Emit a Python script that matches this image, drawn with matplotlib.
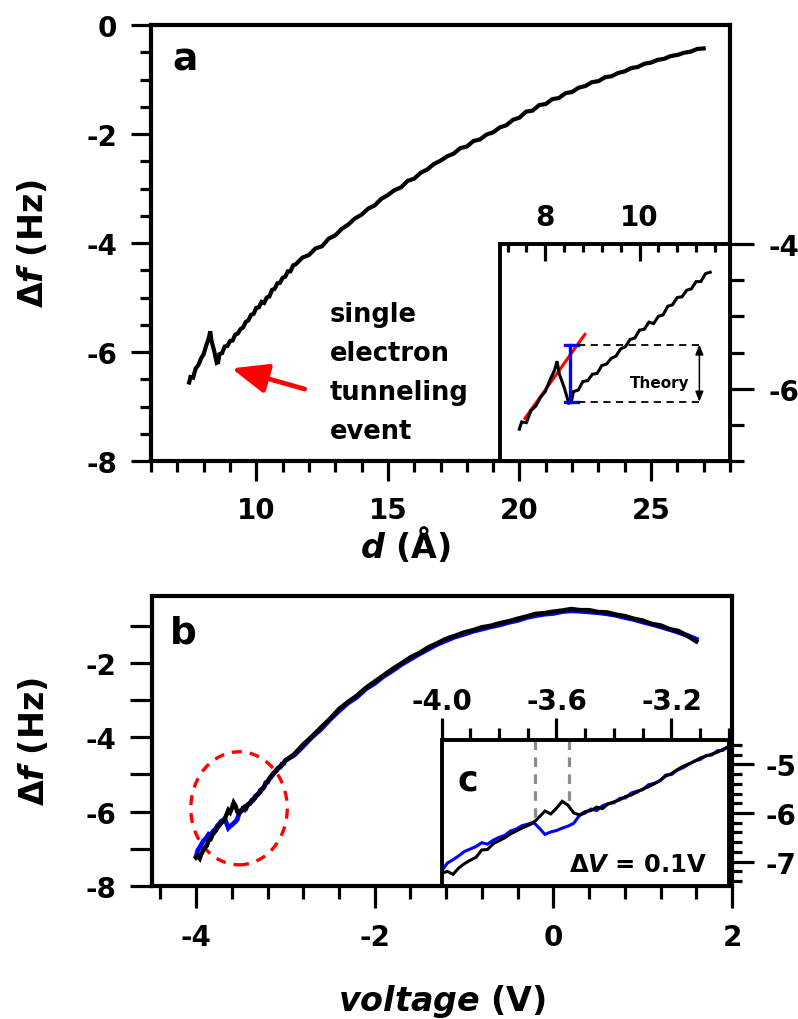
import matplotlib
matplotlib.use("Agg")
import matplotlib.pyplot as plt
from matplotlib.ticker import MultipleLocator, FuncFormatter, FormatStrFormatter
from matplotlib.patches import Ellipse

plt.rcParams.update({
    "font.family": "DejaVu Sans",
    "font.weight": "bold",
    "axes.labelweight": "bold",
    "axes.unicode_minus": False,
    "mathtext.fontset": "custom",
    "mathtext.rm": "DejaVu Sans",
    "mathtext.it": "DejaVu Sans:italic:bold",
    "mathtext.bf": "DejaVu Sans:bold",
})

# ---- panel a: frequency shift vs tip-sample distance ----
d_a = [7.45, 7.5, 7.6, 7.7, 7.8, 7.9, 8.0, 8.1, 8.2, 8.25, 8.3, 8.4, 8.5, 8.55,
       8.6, 8.7, 8.8, 8.9, 9.0, 9.1, 9.2, 9.3, 9.4, 9.5, 9.6, 9.7, 9.8, 9.9,
       10.0, 10.1, 10.2, 10.3, 10.4, 10.5, 10.6, 10.7, 10.8, 10.9, 11.0, 11.1,
       11.2, 11.3, 11.4, 11.5, 11.75, 12.0, 12.25, 12.5, 12.75, 13.0, 13.25,
       13.5, 13.75, 14.0, 14.25, 14.5, 14.75, 15.0, 15.25, 15.5, 15.75, 16.0,
       16.25, 16.5, 16.75, 17.0, 17.25, 17.5, 17.75, 18.0, 18.25, 18.5, 18.75,
       19.0, 19.25, 19.5, 19.75, 20.0, 20.25, 20.5, 20.75, 21.0, 21.25, 21.5,
       21.75, 22.0, 22.25, 22.5, 22.75, 23.0, 23.25, 23.5, 23.75, 24.0, 24.25,
       24.5, 24.75, 25.0, 25.25, 25.5, 25.75, 26.0, 26.25, 26.5, 26.75, 27.0]
df_a = [-6.56, -6.46, -6.47, -6.30, -6.24, -6.12, -6.04, -5.88, -5.74, -5.62,
        -5.80, -5.98, -6.20, -6.19, -6.04, -6.02, -5.90, -5.89, -5.80, -5.79,
        -5.68, -5.66, -5.58, -5.55, -5.45, -5.42, -5.32, -5.30, -5.19, -5.18,
        -5.08, -5.10, -5.00, -4.98, -4.86, -4.84, -4.74, -4.73, -4.64, -4.62,
        -4.52, -4.52, -4.41, -4.39, -4.27, -4.22, -4.10, -4.06, -3.92, -3.86,
        -3.74, -3.66, -3.55, -3.48, -3.37, -3.31, -3.19, -3.12, -3.03, -2.98,
        -2.86, -2.82, -2.71, -2.65, -2.55, -2.49, -2.41, -2.36, -2.26, -2.23,
        -2.13, -2.10, -2.01, -1.97, -1.88, -1.84, -1.74, -1.70, -1.59, -1.57,
        -1.47, -1.45, -1.36, -1.34, -1.25, -1.23, -1.15, -1.12, -1.05, -1.03,
        -0.96, -0.94, -0.88, -0.85, -0.79, -0.77, -0.71, -0.69, -0.64, -0.62,
        -0.57, -0.55, -0.51, -0.49, -0.44, -0.43]
n_zoom = 44  # samples up to d = 11.5 shown in the close-up

# linear fit before the event and the measured / theoretical jump
fit_d = [7.57, 8.84]
fit_df = [-6.41, -5.25]
jump_d = 8.52
jump_top, jump_bottom = -5.39, -6.18
theory_d_end = 11.29

# ---- panel b / c: frequency shift vs bias voltage (two sweeps) ----
v_b = [-4.00, -3.98, -3.96, -3.94, -3.92, -3.90, -3.88, -3.86, -3.84, -3.82,
       -3.80, -3.78, -3.76, -3.74, -3.72, -3.70, -3.68, -3.66, -3.64, -3.62,
       -3.60, -3.58, -3.56, -3.54, -3.52, -3.50, -3.48, -3.46, -3.44, -3.42,
       -3.40, -3.38, -3.36, -3.34, -3.32, -3.30, -3.28, -3.26, -3.24, -3.22,
       -3.20, -3.18, -3.16, -3.14, -3.12, -3.10, -3.08, -3.06, -3.04, -3.02,
       -3.00, -2.9, -2.8, -2.7, -2.6, -2.5, -2.4, -2.3, -2.2, -2.1, -2.0, -1.9,
       -1.8, -1.7, -1.6, -1.5, -1.4, -1.3, -1.2, -1.1, -1.0, -0.9, -0.8, -0.7,
       -0.6, -0.5, -0.4, -0.3, -0.2, -0.1, 0.0, 0.1, 0.2, 0.3, 0.4, 0.5, 0.6,
       0.7, 0.8, 0.9, 1.0, 1.1, 1.2, 1.3, 1.4, 1.5, 1.6]
df_black = [-7.24, -7.20, -7.26, -7.13, -7.04, -6.97, -6.91, -6.76, -6.75, -6.63,
            -6.57, -6.51, -6.43, -6.37, -6.31, -6.26, -6.20, -6.08, -5.96, -6.02,
            -5.90, -5.76, -5.84, -6.00, -6.04, -5.97, -5.95, -5.88, -5.91, -5.81,
            -5.77, -5.73, -5.66, -5.63, -5.57, -5.51, -5.46, -5.40, -5.33, -5.24,
            -5.19, -5.11, -5.04, -4.99, -4.94, -4.87, -4.83, -4.79, -4.75, -4.69,
            -4.63, -4.45, -4.19, -3.97, -3.73, -3.50, -3.24, -3.05, -2.88, -2.67,
            -2.50, -2.33, -2.16, -2.01, -1.85, -1.73, -1.58, -1.47, -1.35, -1.27,
            -1.18, -1.12, -1.04, -1.00, -0.93, -0.88, -0.81, -0.75, -0.68, -0.66,
            -0.62, -0.59, -0.55, -0.58, -0.58, -0.63, -0.64, -0.70, -0.74, -0.81,
            -0.86, -0.95, -0.99, -1.09, -1.14, -1.27, -1.42]
df_blue = [-7.20, -7.03, -6.96, -6.88, -6.79, -6.74, -6.69, -6.61, -6.64, -6.56,
           -6.50, -6.46, -6.37, -6.33, -6.26, -6.23, -6.19, -6.31, -6.44, -6.39,
           -6.36, -6.31, -6.27, -6.21, -6.05, -6.00, -5.92, -5.95, -5.85, -5.81,
           -5.79, -5.70, -5.69, -5.59, -5.55, -5.52, -5.42, -5.39, -5.34, -5.22,
           -5.21, -5.12, -5.07, -5.00, -4.93, -4.90, -4.82, -4.81, -4.72, -4.71,
           -4.62, -4.48, -4.24, -3.99, -3.78, -3.52, -3.29, -3.08, -2.92, -2.70,
           -2.55, -2.36, -2.21, -2.04, -1.90, -1.76, -1.63, -1.50, -1.40, -1.30,
           -1.23, -1.15, -1.09, -1.03, -0.98, -0.91, -0.86, -0.78, -0.73, -0.69,
           -0.67, -0.62, -0.60, -0.61, -0.63, -0.65, -0.68, -0.72, -0.78, -0.83,
           -0.90, -0.96, -1.03, -1.10, -1.18, -1.26, -1.36]

# bias positions of the charging step
step_v = [-3.676, -3.555]
step_end = [-6.10, -5.85]

fig = plt.figure(figsize=(7.98, 10.2), dpi=100)
W, H = 798.0, 1020.0


def box(left, top, right, bottom):
    return [left / W, 1 - bottom / H, (right - left) / W, (bottom - top) / H]


ax_a = fig.add_axes(box(151, 26, 730, 462))
ax_ai = fig.add_axes(box(500, 245, 730, 462))
ax_b = fig.add_axes(box(151.5, 597, 732, 887))
ax_c = fig.add_axes(box(441.5, 741, 729, 887))

TICK_FS = 20
LABEL_FS = 24


def style_spines(ax, lw):
    for s in ax.spines.values():
        s.set_linewidth(lw)


# ---------------- panel a ----------------
ax_a.plot(d_a, df_a, color="black", lw=3.0, solid_joinstyle="miter")
ax_a.set_xlim(6, 28)
ax_a.set_ylim(-8, 0)
ax_a.xaxis.set_major_locator(MultipleLocator(5))
ax_a.xaxis.set_minor_locator(MultipleLocator(1))
ax_a.yaxis.set_major_locator(MultipleLocator(2))
ax_a.yaxis.set_minor_locator(MultipleLocator(0.5))
style_spines(ax_a, 3.0)
ax_a.tick_params(which="both", direction="out", width=2.3, top=False, right=False)
ax_a.tick_params(which="major", length=14.4, labelsize=TICK_FS)
ax_a.tick_params(which="minor", length=8)
ax_a.tick_params(axis="x", which="major", pad=11)
ax_a.tick_params(axis="y", which="major", pad=10)
ax_a.set_ylabel("Δ$f$ (Hz)", fontsize=LABEL_FS)
ax_a.yaxis.set_label_coords(-0.175, 0.5)
ax_a.set_xlabel("$d$ (Å)", fontsize=LABEL_FS)
ax_a.xaxis.set_label_coords(0.439, -0.145)
ax_a.text(0.037, 0.899, "a", transform=ax_a.transAxes, fontsize=27,
          ha="left", va="baseline")

ax_a.annotate("", xy=(9.06, -6.30), xytext=(11.84, -6.68),
              arrowprops=dict(arrowstyle="-|>,head_length=1.1,head_width=0.45",
                              color="#ff0000", lw=3.4, mutation_scale=20,
                              shrinkA=0, shrinkB=0))
for line, yb in zip(["single", "electron", "tunneling", "event"],
                    [-5.43, -6.15, -6.86, -7.58]):
    ax_a.text(12.79, yb, line, fontsize=18.5, ha="left", va="baseline")

# ---------------- inset of panel a ----------------
ax_ai.plot(fit_d, fit_df, color="#ff0000", lw=2.2)
ax_ai.plot(d_a[:n_zoom], df_a[:n_zoom], color="black", lw=2.2,
           solid_joinstyle="miter")
ax_ai.plot([jump_d, jump_d], [jump_top, jump_bottom], color="#0000ff", lw=2.4)
ax_ai.plot([8.41, 8.70], [jump_top, jump_top], color="#0000ff", lw=2.4)
ax_ai.plot([8.41, 8.70], [jump_bottom, jump_bottom], color="#0000ff", lw=2.4)
ax_ai.plot([8.70, theory_d_end], [jump_top, jump_top], color="black", lw=1.3,
           dashes=(4, 3))
ax_ai.plot([8.70, theory_d_end], [jump_bottom, jump_bottom], color="black", lw=1.3,
           dashes=(4, 3))
ax_ai.annotate("", xy=(11.27, jump_top), xytext=(11.27, jump_bottom),
               arrowprops=dict(arrowstyle="<|-|>,head_length=0.5,head_width=0.2",
                               color="black", lw=1.1, mutation_scale=12,
                               shrinkA=0, shrinkB=0))
ax_ai.text(10.43, -5.92, "Theory", fontsize=11, ha="center", va="center")
ax_ai.set_xlim(7.04, 11.92)
ax_ai.set_ylim(-7, -4)
ax_ai.xaxis.set_major_locator(MultipleLocator(2))
ax_ai.xaxis.set_minor_locator(MultipleLocator(0.4))
ax_ai.yaxis.set_major_locator(MultipleLocator(2))
ax_ai.yaxis.set_minor_locator(MultipleLocator(0.5))
style_spines(ax_ai, 2.8)
ax_ai.tick_params(axis="x", which="both", direction="in", top=True, bottom=False,
                  labeltop=True, labelbottom=False, width=2.3)
ax_ai.tick_params(axis="x", which="major", length=12, pad=9, labelsize=TICK_FS)
ax_ai.tick_params(axis="x", which="minor", length=6)
ax_ai.tick_params(axis="y", which="both", direction="out", left=False, right=True,
                  labelleft=False, labelright=True, width=2.3)
ax_ai.tick_params(axis="y", which="major", length=17, pad=11, labelsize=TICK_FS)
ax_ai.tick_params(axis="y", which="minor", length=10)

# ---------------- panel b ----------------
ax_b.plot(v_b, df_blue, color="#0000ff", lw=3.4, solid_joinstyle="miter")
ax_b.plot(v_b, df_black, color="black", lw=3.2, solid_joinstyle="miter")
ax_b.add_patch(Ellipse((-3.52, -5.91), 1.08, 3.04, fill=False, ec="#ff0000",
                       lw=2.4, ls=(0, (3, 2.4))))
ax_b.set_xlim(-4.5, 2)
ax_b.set_ylim(-8, -0.2)
ax_b.xaxis.set_major_locator(MultipleLocator(2))
ax_b.xaxis.set_minor_locator(MultipleLocator(0.4))
ax_b.yaxis.set_major_locator(MultipleLocator(1))
ax_b.yaxis.set_major_formatter(
    FuncFormatter(lambda v, p: "%d" % round(v) if round(v) % 2 == 0 else ""))
style_spines(ax_b, 3.0)
ax_b.tick_params(which="both", direction="out", width=2.3, top=False, right=False)
ax_b.tick_params(axis="x", which="major", length=16, pad=11, labelsize=TICK_FS)
ax_b.tick_params(axis="x", which="minor", length=9)
ax_b.tick_params(axis="y", which="major", length=15.5, pad=10, labelsize=TICK_FS)
ax_b.set_ylabel("Δ$f$ (Hz)", fontsize=LABEL_FS)
ax_b.yaxis.set_label_coords(-0.173, 0.5)
ax_b.set_xlabel("$voltage$ (V)", fontsize=LABEL_FS)
ax_b.xaxis.set_label_coords(0.5, -0.33)
ax_b.text(0.032, 0.841, "b", transform=ax_b.transAxes, fontsize=27,
          ha="left", va="baseline")

# ---------------- inset c ----------------
ax_c.plot(v_b, df_blue, color="#0000ff", lw=2.2, solid_joinstyle="miter")
ax_c.plot(v_b, df_black, color="black", lw=2.2, solid_joinstyle="miter")
for v, y_end in zip(step_v, step_end):
    ax_c.plot([v, v], [-4.5, y_end], color="#8c8c8c", lw=2.3, dashes=(3, 2.3),
              clip_on=False)
ax_c.set_xlim(-4.0, -3.0)
ax_c.set_ylim(-7.5, -4.5)
ax_c.xaxis.set_major_locator(MultipleLocator(0.4))
ax_c.xaxis.set_minor_locator(MultipleLocator(0.1))
ax_c.xaxis.set_major_formatter(FormatStrFormatter("%.1f"))
ax_c.yaxis.set_major_locator(MultipleLocator(1))
ax_c.yaxis.set_minor_locator(MultipleLocator(0.2))
style_spines(ax_c, 2.8)
ax_c.tick_params(axis="x", which="both", direction="out", top=True, bottom=False,
                 labeltop=True, labelbottom=False, width=2.3)
ax_c.tick_params(axis="x", which="major", length=16, pad=2, labelsize=TICK_FS)
ax_c.tick_params(axis="x", which="minor", length=9)
ax_c.tick_params(axis="y", which="both", direction="out", left=False, right=True,
                 labelleft=False, labelright=True, width=2.3)
ax_c.tick_params(axis="y", which="major", length=18, pad=8, labelsize=TICK_FS)
ax_c.tick_params(axis="y", which="minor", length=9)
ax_c.text(0.057, 0.664, "c", transform=ax_c.transAxes, fontsize=25,
          ha="left", va="baseline")
ax_c.text(0.923, 0.103, r"$\Delta V$ = 0.1V", transform=ax_c.transAxes,
          fontsize=17.5, ha="right", va="baseline")

fig.savefig("out.png", dpi=100)
